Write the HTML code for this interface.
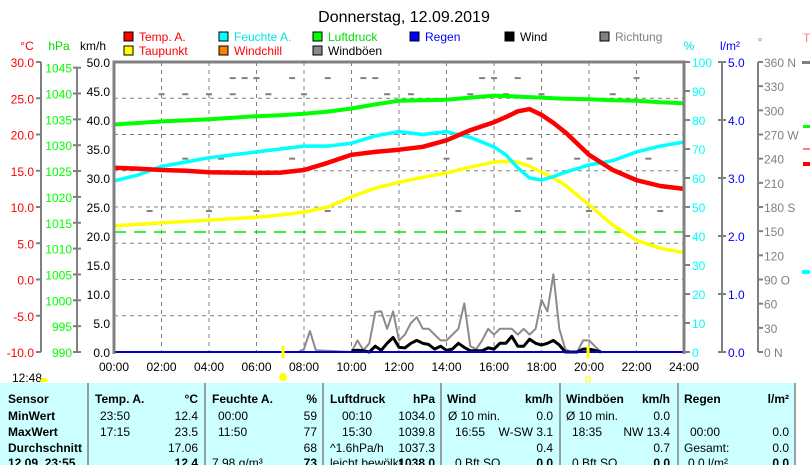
<!DOCTYPE html>
<html><head><meta charset="utf-8">
<style>
body{margin:0;background:#fff;width:810px;height:465px;overflow:hidden;font-family:"Liberation Sans",sans-serif}
svg{position:absolute;left:0;top:0}
text{font-family:"Liberation Sans",sans-serif}
</style></head>
<body>
<svg id="chart" width="810" height="465"></svg>
<script>
const hours=[0,1,2,3,4,5,6,7,8,9,10,11,12,13,14,15,16,16.5,17,17.5,18,18.5,19,20,21,22,23,24];
const tempVals=[15.4,15.3,15.1,15.0,14.8,14.75,14.7,14.75,15.1,16.1,17.2,17.6,17.9,18.3,19.2,20.6,21.7,22.4,23.2,23.5,22.7,21.6,20.3,17.2,15.1,13.7,12.9,12.5];
const humVals=[59,61,64,65.5,67,68,69,70,71,71,72,74.5,76,75,76,74,70.7,68,63.5,60,59.3,60.5,62,64.5,66,69,71,72.4];
const presVals=[1034.0,1034.3,1034.6,1034.8,1035.0,1035.3,1035.6,1035.8,1036.1,1036.5,1037.1,1037.9,1038.6,1038.7,1038.8,1039.2,1039.6,1039.5,1039.4,1039.3,1039.2,1039.1,1039.0,1038.9,1038.7,1038.6,1038.3,1038.1];
const dewVals=[7.4,7.6,7.8,8.0,8.2,8.4,8.6,8.9,9.3,10,11.4,12.6,13.4,14.1,14.7,15.5,16.2,16.3,16.2,15.6,14.8,14.0,13.0,10.3,7.5,5.4,4.3,3.7];
const gustTimes=[7.75,8,8.25,8.5,10,10.25,10.5,10.75,11,11.25,11.5,11.75,12,12.25,12.5,12.75,13,13.25,13.5,13.75,14,14.25,14.5,14.75,15,15.25,15.5,15.75,16,16.25,16.5,16.75,17,17.25,17.5,17.75,18,18.25,18.5,18.75,19,19.25,19.5,19.75,20,20.25,20.5];
const gustVals=[0,0.5,3.6,0.3,0,2,0.3,1.5,6.9,7,4,7,2,3,5,6,4,4,3,2,2,3,4,8.4,1,0.5,2,4,3,4,4,4,3,4,3,4,9,7,13.4,4,0.5,0,0,2,2,1,0];
const windTimes=[10,10.25,10.5,10.75,11,11.25,11.5,11.75,12,12.25,12.5,12.75,13,13.25,13.5,13.75,14,14.25,14.5,14.75,15,15.25,15.5,15.75,16,16.25,16.5,16.75,17,17.25,17.5,17.75,18,18.25,18.5,18.75,19,19.5,19.75,20,20.25,20.5];
const windVals=[0.2,0.3,0.2,0,1,0.3,1.5,2.5,0.8,0.7,1.5,2,1.5,1.3,0.5,1,0.3,0.5,1.5,0.8,0.2,0.2,0.2,0.7,0.5,1.5,1.5,2.7,1,1,2.2,1.5,1.2,1.5,2,1.2,0,0,0.5,0.5,0.3,0];
const dirTimes=[5,5.5,6,7.5,9,10.5,11,15.5,16,17,22,2,3,4,5,6.5,8,11.5,12.5,15,16.5,18,21,3,4.5,7.5,9.5,14,17.5,19.5,22.5,1.5,4,6,9,14.5,17,20,23];
const dirVals=[340,340,340,340,340,340,340,340,340,340,340,320,320,320,320,320,320,320,320,320,320,320,320,240,240,240,240,240,240,240,240,175,175,175,175,175,175,175,175];
const kmhTicks=["0.0","5.0","10.0","15.0","20.0","25.0","30.0","35.0","40.0","45.0","50.0"];
const tempTicks=["-10.0","-5.0","0.0","5.0","10.0","15.0","20.0","25.0","30.0"];
const hpaTicks=["990","995","1000","1005","1010","1015","1020","1025","1030","1035","1040","1045"];
const humTicks=["0","10","20","30","40","50","60","70","80","90","100"];
const rainTicks=["0.0","1.0","2.0","3.0","4.0","5.0"];
const dirTicks=["0","30","60","90","120","150","180","210","240","270","300","330","360"];
const dirSuffix={0:"N",90:"O",180:"S",270:"W",360:"N"};
const xTicks=["00:00","02:00","04:00","06:00","08:00","10:00","12:00","14:00","16:00","18:00","20:00","22:00","24:00"];

const X0=114,X1=684,Y0=352,Y1=62;
const xS=h=>X0+(X1-X0)*h/24;
const yK=v=>Y0-(Y0-Y1)*v/50;
const yT=v=>Y0-(Y0-Y1)*(v+10)/40;
const yP=v=>Y0-(v-990)*5.17;
const yH=v=>Y0-(Y0-Y1)*v/100;
const yR=v=>Y0-(Y0-Y1)*v/5;
const yD=v=>Y0-(Y0-Y1)*v/360;

const svg=document.getElementById('chart');
const NS='http://www.w3.org/2000/svg';
function mk(tag,attrs,parent){const e=document.createElementNS(NS,tag);for(const k in attrs)e.setAttribute(k,attrs[k]);(parent||svg).appendChild(e);return e;}
function txt(x,y,s,fill,anchor,size,weight){const t=mk('text',{x:x,y:y,fill:fill,'text-anchor':anchor||'start','font-size':size||12});if(weight)t.setAttribute('font-weight',weight);t.textContent=s;return t;}

// title
let t=txt(404,22,"Donnerstag, 12.09.2019","#000","middle",16);



// legend
const legendItems=[[124,38,"#ff0000","Temp. A.","#ff0000"],[219,38,"#00ffff","Feuchte A.","#00e5e5"],[313,38,"#00ff00","Luftdruck","#00dd00"],[410,38,"#0000ff","Regen","#0000ff"],[505,38,"#000000","Wind","#000"],[600,38,"#808080","Richtung","#808080"],[124,52,"#ffff00","Taupunkt","#ff0000"],[219,52,"#ff8000","Windchill","#ff0000"],[313,52,"#908890","Windböen","#000"]];
legendItems.forEach(it=>{
  const g=mk('g',{});
  
  
  mk('rect',{x:it[0],y:it[1]-6,width:9,height:9,fill:it[2],stroke:'#000','stroke-width':1},g);
  const tt=txt(it[0]+15,it[1]+3,it[3],it[4],'start',12);g.appendChild(tt);
});

// axis titles
[[27,50,"°C","#ff0000"],[59,50,"hPa","#00dd00"],[93,50,"km/h","#000"],[689,50,"%","#00dddd"],[730,50,"l/m²","#0000ff"],[760,46,"°","#808080"]].forEach(a=>{const e=txt(a[0],a[1],a[2],a[3],'middle',12);});

// gridlines
const grid=mk('g',{stroke:'#808080','stroke-width':1,'stroke-dasharray':'4,4'});


for(let i=1;i<8;i++){const y=Y1+(Y0-Y1)*i/8;mk('line',{x1:X0,x2:X1,y1:y,y2:y},grid);}
for(let i=1;i<12;i++){const x=xS(i*2);mk('line',{x1:x,x2:x,y1:Y1,y2:Y0},grid);}

// green dashed threshold
let gl=mk('line',{x1:X0,x2:X1,y1:232,y2:232,stroke:'#00ee00','stroke-width':1.5,'stroke-dasharray':'12,8'});



// direction dashes
const dg=mk('g',{fill:'#808080'});


dirTimes.forEach((h,i)=>{mk('rect',{x:xS(h)-3,y:yD(dirVals[i])-1,width:6,height:2},dg);});

function poly(ts,vs,fy,color,w,name){
  const pts=ts.map((h,i)=>xS(h).toFixed(1)+','+fy(vs[i]).toFixed(1)).join(' ');
  const p=mk('polyline',{points:pts,fill:'none',stroke:color,'stroke-width':w,'stroke-linejoin':'round'});
  
  
}
poly(gustTimes,gustVals,yK,'#908890',2,'gust-line');
poly(windTimes,windVals,yK,'#000',3,'wind-line');
poly(hours,presVals,yP,'#00ff00',4,'pressure-line');
poly(hours,dewVals,yT,'#ffff00',3.5,'dewpoint-line');
poly(hours,humVals,yH,'#00ffff',3.5,'humidity-line');
poly(hours,tempVals,yT,'#ff0000',4.5,'temperature-line');
let rl=mk('line',{x1:X0,x2:X1,y1:Y0,y2:Y0,stroke:'#0000cc','stroke-width':2});



// plot frame
let fr=mk('path',{d:`M${X0},${Y0+2} V${Y1} H${X1} V${Y0+2}`,fill:'none',stroke:'#808080','stroke-width':3});



// left axes
const axG=mk('g',{stroke:'#808080','stroke-width':2});
mk('line',{x1:41,x2:41,y1:Y1,y2:Y0},axG);
mk('line',{x1:77,x2:77,y1:68,y2:Y0},axG);
mk('line',{x1:722,x2:722,y1:Y1,y2:Y0},axG);
mk('line',{x1:758,x2:758,y1:Y1,y2:Y0},axG);
tempTicks.forEach((s,i)=>{const y=yT(-10+5*i);mk('line',{x1:36,x2:41,y1:y,y2:y},axG);const e=txt(34,y+5,s,'#ff0000','end',12);});
hpaTicks.forEach((s,i)=>{const y=yP(990+5*i);mk('line',{x1:73,x2:81,y1:y,y2:y},axG);const e=txt(72,y+5,s,'#00ff00','end',12);});
kmhTicks.forEach((s,i)=>{const y=yK(5*i);const e=txt(110,y+5,s,'#000','end',12);});
humTicks.forEach((s,i)=>{const y=yH(10*i);mk('line',{x1:684,x2:690,y1:y,y2:y},axG);const e=txt(692,y+5,s,'#00ffff','start',12);});
rainTicks.forEach((s,i)=>{const y=yR(i);mk('line',{x1:718,x2:726,y1:y,y2:y},axG);const e=txt(728,y+5,s,'#0000ff','start',12);});
dirTicks.forEach((s,i)=>{const y=yD(30*i);mk('line',{x1:758,x2:763,y1:y,y2:y},axG);const suf=dirSuffix[30*i]?(' '+dirSuffix[30*i]):'';const e=txt(764,y+5,s+suf,'#808080','start',12);});
xTicks.forEach((s,i)=>{const e=txt(xS(2*i),371,s,'#000','middle',12);});

// sunrise / sunset marks
mk('line',{x1:283,x2:283,y1:346,y2:358,stroke:'#ffff00','stroke-width':3});
mk('circle',{cx:283,cy:377,r:4,fill:'#ffff00'});
mk('line',{x1:588,x2:588,y1:346,y2:358,stroke:'#ffff00','stroke-width':3});
mk('rect',{x:586,y:377,width:4,height:5,fill:'none',stroke:'#ffff00'});
let tm=txt(12,382,"12:48","#000","start",12);


mk('path',{d:'M40,382 a4,4 0 0 1 8,0 z',fill:'#ffff00'});

// right edge partial legend
txt(803,42,"T","#ff8080","start",12);
mk('rect',{x:802,y:61,width:8,height:3,fill:'#808080'});
mk('rect',{x:803,y:125,width:7,height:3,fill:'#00ff00'});
mk('rect',{x:803,y:148,width:7,height:2,fill:'#ff8080'});
mk('rect',{x:803,y:162,width:7,height:4,fill:'#ff0000'});
mk('rect',{x:802,y:270,width:8,height:4,fill:'#00ffff'});

// table
const tb=mk('g',{});


mk('rect',{x:0,y:383,width:795,height:82,fill:'#ccffff'},tb);
[88,205,323,441,560,678,795].forEach(x=>mk('line',{x1:x,x2:x,y1:383,y2:465,stroke:'#808080','stroke-width':1.5},tb));
const rowsY=[403,424,445,465];
const cells=[
 [8,403,"Sensor","start",1],[8,420,"MinWert","start",1],[8,436,"MaxWert","start",1],[8,452,"Durchschnitt","start",1],[8,467,"12.09. 23:55","start",1],
 [95,403,"Temp. A.","start",1],[198,403,"°C","end",1],[100,420,"23:50","start"],[198,420,"12.4","end"],[100,436,"17:15","start"],[198,436,"23.5","end"],[198,452,"17.06","end"],[198,467,"12.4","end",1],
 [212,403,"Feuchte A.","start",1],[317,403,"%","end",1],[218,420,"00:00","start"],[317,420,"59","end"],[218,436,"11:50","start"],[317,436,"77","end"],[317,452,"68","end"],[212,467,"7.98 g/m³","start"],[317,467,"73","end",1],
 [330,403,"Luftdruck","start",1],[435,403,"hPa","end",1],[342,420,"00:10","start"],[435,420,"1034.0","end"],[342,436,"15:30","start"],[435,436,"1039.8","end"],[330,452,"^1.6hPa/h","start"],[435,452,"1037.3","end"],[330,467,"leicht bewölkt","start"],[435,467,"1038.0","end",1],
 [447,403,"Wind","start",1],[553,403,"km/h","end",1],[448,420,"Ø 10 min.","start"],[553,420,"0.0","end"],[455,436,"16:55","start"],[553,436,"W-SW 3.1","end"],[553,452,"0.4","end"],[455,467,"0 Bft SO","start"],[553,467,"0.0","end",1],
 [566,403,"Windböen","start",1],[670,403,"km/h","end",1],[566,420,"Ø 10 min.","start"],[670,420,"0.0","end"],[572,436,"18:35","start"],[670,436,"NW 13.4","end"],[670,452,"0.7","end"],[572,467,"0 Bft SO","start"],[670,467,"0.0","end",1],
 [684,403,"Regen","start",1],[789,403,"l/m²","end",1],[690,436,"00:00","start"],[789,436,"0.0","end"],[684,452,"Gesamt:","start"],[789,452,"0.0","end"],[688,467,"0.0 l/m²","start"],[789,467,"0.0","end",1]
];
cells.forEach(c=>{const e=txt(c[0],c[1],c[2],'#000',c[3],12,c[4]?'bold':null);tb.appendChild(e);});
</script>
</body></html>
